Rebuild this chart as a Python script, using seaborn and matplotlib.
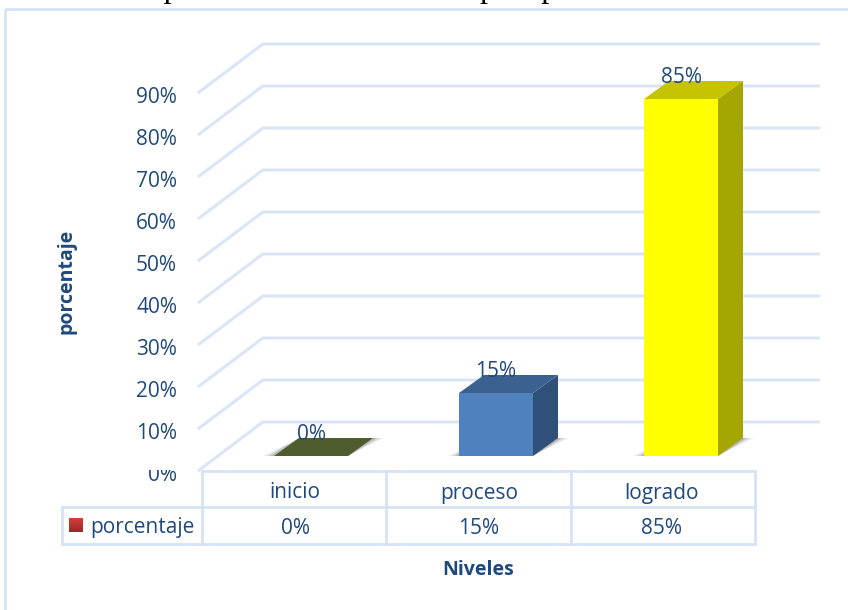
import matplotlib
matplotlib.use("Agg")
import matplotlib.pyplot as plt
import numpy as np
import pandas as pd
import seaborn as sns
from matplotlib.patches import Polygon, Rectangle

niveles = ["inicio", "proceso", "logrado"]
porcentaje = [0, 15, 85]
tabla_labels = ["0%", "15%", "85%"]
eje_ticks = [0, 10, 20, 30, 40, 50, 60, 70, 80, 90]
grid_ticks = [0, 10, 20, 30, 40, 50, 60, 70, 80, 90]
titulo = "Nivel de expresión oral mediante la post prueba."

front_colors = ["#4f5d2e", "#4f81bd", "#ffff00"]
side_colors = ["#3c4622", "#2f5179", "#a6a600"]
top_colors = ["#4f5d2e", "#3a6190", "#c4c400"]
TEXT = "#1f497d"
LINE = "#d6e3f4"
W, H = 848, 610

sns.set_theme(style="white")
plt.rcParams["font.family"] = ["Open Sans", "DejaVu Sans"]

fig = plt.figure(figsize=(W / 100, H / 100), dpi=100, facecolor="white")

# overlay in pixel coords for frame and data table
over = fig.add_axes([0, 0, 1, 1], zorder=0)
over.set_xlim(0, W)
over.set_ylim(H, 0)
over.axis("off")

# main axes, y=0 at pixel 456, 4.2 px per percent
left, right, base, top = 218.5, 773.5, 456, 36
ax = fig.add_axes([left / W, 1 - base / H, (right - left) / W, (base - top) / H], zorder=1)
ax.patch.set_alpha(0)

df = pd.DataFrame({"nivel": niveles, "porcentaje": porcentaje})
sns.barplot(data=df, x="nivel", y="porcentaje", hue="nivel", palette=front_colors,
            width=0.4, legend=False, saturation=1, ax=ax, zorder=5)
ax.set_xlim(-0.5, 2.5)
ax.set_ylim(0, 100)
ax.axis("off")

dx, dy = 25 / 185, 18 / 4.2

# walls and gridlines
back_x, back_y = -0.26, 8.1
front_x, front_y = -0.611, -3.57
end_x = 2.751
for v in grid_ticks:
    xs, ys = [front_x, back_x, end_x], [v + front_y, v + back_y, v + back_y]
    ax.plot(xs, ys, color=LINE, lw=3, alpha=0.35, clip_on=False, zorder=1,
            solid_joinstyle="miter", solid_capstyle="butt")
    ax.plot(xs, ys, color=LINE, lw=1.6, alpha=0.9, clip_on=False, zorder=1,
            solid_joinstyle="miter", solid_capstyle="butt")

# 3d faces from the seaborn bars
for i, bar in enumerate(ax.patches):
    x0, w, h = bar.get_x(), bar.get_width(), bar.get_height()
    bar.set_edgecolor("none")
    x1 = x0 + w
    # soft floor shadow
    for grow, a in [(0.06, 0.08), (0.04, 0.12), (0.02, 0.2)]:
        ax.add_patch(Polygon([(x0 - grow, 0), (x1, 0), (x1 + dx + grow, dy), (x0 + dx, dy)],
                             fc="#333333", ec="none", alpha=a, zorder=3, clip_on=False))
    ax.add_patch(Polygon([(x1, 0), (x1 + dx, dy), (x1 + dx, h + dy), (x1, h)],
                         fc=side_colors[i], ec="none", zorder=6, clip_on=False))
    ax.add_patch(Polygon([(x0, h), (x1, h), (x1 + dx, h + dy), (x0 + dx, h + dy)],
                         fc=top_colors[i], ec="none", zorder=6, clip_on=False))
    ax.text(x0 + w / 2, h + 5.1, f"{porcentaje[i]}%", ha="center", va="center",
            color=TEXT, fontsize=15, zorder=8, clip_on=False)

# tick labels sit below the front edge of the wall
for v in eje_ticks:
    t = ax.text(-0.724, v - 4.7, f"{v}%", ha="right", va="center", color=TEXT,
                fontsize=15, clip_on=False)
    if v == 0:
        t.set_clip_on(True)
        t.set_clip_path(Rectangle((100, 470), 100, 30, transform=over.transData))

# chart frame, and the caption cut off by the page above it
over.add_patch(Rectangle((5, 9), W, H, fc="none", ec=LINE, lw=2))
over.text(16, -3.5, titulo, ha="left", va="baseline", color="black", fontsize=23,
          family="Liberation Serif")

# data table
for xs, ys in [([202, 755], [470.5, 470.5]), ([62, 755], [507, 507]), ([62, 755], [544, 544]),
               ([62, 62], [507, 544]), ([202, 202], [470.5, 544]), ([386, 386], [470.5, 544]),
               ([571, 571], [470.5, 544]), ([755, 755], [470.5, 544])]:
    over.plot(xs, ys, color=LINE, lw=2, solid_capstyle="projecting")

centers = [295, 479, 662]
for c, n, lab in zip(centers, niveles, tabla_labels):
    over.text(c, 493, n, ha="center", va="center", color=TEXT, fontsize=15)
    over.text(c, 529, lab, ha="center", va="center", color=TEXT, fontsize=15)
over.text(90, 528, "porcentaje", ha="left", va="center", color=TEXT, fontsize=15)

grad = np.linspace(0, 1, 14).reshape(-1, 1)
red = np.array([[0.82, 0.24, 0.22]]) * (1 - grad) + np.array([[0.62, 0.16, 0.16]]) * grad
over.imshow(red[:, None, :], extent=(69, 83, 532, 518), aspect="auto", zorder=2)
over.set_xlim(0, W)
over.set_ylim(H, 0)

over.text(66, 281, "porcentaje", rotation=90, ha="center", va="center", color=TEXT,
          fontsize=14, fontweight="bold")
over.text(478, 570, "Niveles", ha="center", va="center", color=TEXT, fontsize=14,
          fontweight="bold")

fig.savefig("out.png", dpi=100)
